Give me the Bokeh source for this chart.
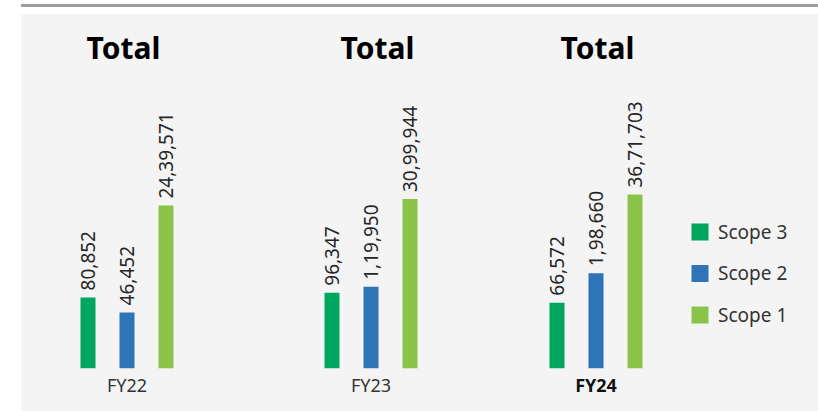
import math

from bokeh.core.properties import value
from bokeh.embed import file_html
from bokeh.layouts import column, row
from bokeh.models import ColumnDataSource, Div, FactorRange, Range1d, Title
from bokeh.plotting import figure
from bokeh.resources import INLINE

# Emissions by scope (tCO2e) per financial year
years = ["FY22", "FY23", "FY24"]
scopes = ["Scope 3", "Scope 2", "Scope 1"]
scope3 = [80852, 96347, 66572]
scope2 = [46452, 119950, 198660]
scope1 = [2439571, 3099944, 3671703]
scope_colors = ["#00a65d", "#2e75b7", "#8bc34a"]
group_title = "Total"
current_year = "FY24"

FONT = "Noto Sans"
PANEL = "#f4f4f4"
Y_START, Y_END = 5800, 3.65e8

# per-year panel geometry: (width, left border, right border, title indent)
panel_geom = [(227, 47, 63, 18), (235, 64, 54, 28), (189, 54, 18, 23)]
FIG_H, TOP_B, BOT_B = 397, 56, 43


def indian(n):
    """Format an integer with Indian digit grouping (e.g. 24,39,571)."""
    s = str(n)
    if len(s) <= 3:
        return s
    head, tail = s[:-3], s[-3:]
    groups = []
    while len(head) > 2:
        groups.insert(0, head[-2:])
        head = head[:-2]
    if head:
        groups.insert(0, head)
    return ",".join(groups + [tail])


def bare(p):
    p.xaxis.visible = False
    p.yaxis.visible = False
    p.grid.visible = False
    p.outline_line_color = None
    p.background_fill_alpha = 0
    p.border_fill_alpha = 0


panels = []
for i, year in enumerate(years):
    vals = [scope3[i], scope2[i], scope1[i]]
    src = ColumnDataSource(dict(scope=scopes, value=vals,
                                label=[indian(v) for v in vals],
                                color=scope_colors))
    w, bl, br, indent = panel_geom[i]
    p = figure(width=w, height=FIG_H, x_range=FactorRange(*scopes, range_padding=0),
               y_range=Range1d(Y_START, Y_END), y_axis_type="log",
               min_border_left=bl, min_border_right=br,
               min_border_top=TOP_B, min_border_bottom=BOT_B,
               toolbar_location=None, output_backend="svg")
    bare(p)

    p.vbar(x="scope", top="value", bottom=Y_START, width=15 / 39,
           color="color", line_color=None, source=src)
    p.text(x="scope", y="value", text="label", source=src,
           angle=math.pi / 2, text_align="left", text_baseline="middle",
           y_offset=-7, text_font=value(FONT), text_font_size="19px",
           text_color="#262626")

    p.title.text = group_title
    p.title.align = "left"
    p.title.offset = indent
    p.title.standoff = 5
    p.title.text_font = FONT
    p.title.text_font_size = "30px"
    p.title.text_font_style = "bold"
    p.title.text_color = "#000000"

    bold = year == current_year
    p.add_layout(Title(text=year, align="center", text_font=FONT,
                       text_font_size="18px",
                       text_font_style="bold" if bold else "normal",
                       text_color="#111111" if bold else "#333333",
                       standoff=5), "below")
    panels.append(p)

# legend key: one square swatch and name per scope, stacked top to bottom
key_src = ColumnDataSource(dict(scope=scopes, color=scope_colors,
                                row=list(range(len(scopes)))[::-1]))
lp = figure(width=146, height=FIG_H,
            x_range=Range1d(-27.5, 118.5), y_range=Range1d(-1.29, 5.89),
            min_border_left=0, min_border_right=0,
            min_border_top=TOP_B, min_border_bottom=BOT_B,
            toolbar_location=None, output_backend="svg")
bare(lp)
lp.rect(x=0, y="row", width=17, height=17, width_units="screen",
        height_units="screen", color="color", line_color=None, source=key_src)
lp.text(x=0, y="row", text="scope", source=key_src, x_offset=18,
        text_align="left", text_baseline="middle", text_font=value(FONT),
        text_font_size="19px", text_color="#333333")

rule = Div(width=797, height=3, margin=(4, 0, 7, 21),
           styles={"background-color": "#9d9d9d"})
bars_row = row(*panels, lp, margin=(0, 0, 0, 21),
               styles={"background-color": PANEL})
layout = column(rule, bars_row)

with open("out.html", "w") as f:
    f.write(file_html(layout, INLINE))
